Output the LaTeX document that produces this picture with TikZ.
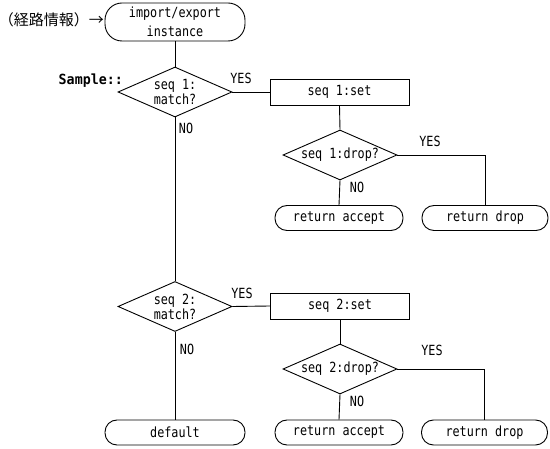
\documentclass[tikz,border=0pt]{standalone}
\usepackage{fontspec}
\usetikzlibrary{shapes.geometric}
\newfontfamily\monof[FakeStretch=0.84]{DejaVu Sans Mono}
\newfontfamily\monobf[FakeStretch=0.95]{DejaVu Sans Mono Bold}
\newfontfamily\cjkf{Noto Sans CJK JP}
\begin{document}
\begin{tikzpicture}[x=1pt,y=-1pt,
  every node/.style={font=\monof\fontsize{14}{15}\selectfont, inner sep=0pt},
  line/.style={draw=black, line width=0.9pt},
  term/.style={line, rounded corners=12pt, minimum height=25pt},
  boxn/.style={line, minimum width=139pt, minimum height=26pt},
  dia/.style={line, diamond, aspect=2.28, minimum width=114pt, minimum height=50pt, align=center},
  lbl/.style={}
]
\useasboundingbox (0,0) rectangle (550,449);
\fill[white] (0,0) rectangle (550,449);

\node[line, rounded corners=17pt, minimum width=140pt, minimum height=38pt, align=center,
  font=\monof\fontsize{14}{19}\selectfont] (start) at (175,22) {import/export\\instance};
\node[font=\cjkf\fontsize{15}{17}\selectfont, anchor=east] (info) at (104,20) {（経路情報）→};

\node[dia] (d1) at (175,92) {seq 1:\\match?};
\node[font=\monobf\fontsize{14}{15}\selectfont, anchor=east] (smp) at (123,81) {Sample::};
\node[boxn] (s1) at (339.5,92) {seq 1:set};
\node[dia] (d2) at (340,155) {seq 1:drop?};
\node[term, minimum width=128pt] (ra1) at (339,218) {return accept};
\node[term, minimum width=126pt] (rd1) at (485,218) {return drop};

\node[dia] (d3) at (175,306.5) {seq 2:\\match?};
\node[boxn] (s2) at (340,306) {seq 2:set};
\node[dia] (d4) at (340,369) {seq 2:drop?};
\node[term, minimum width=140pt] (def) at (175,432.5) {default};
\node[term, minimum width=128pt] (ra2) at (339,432.5) {return accept};
\node[term, minimum width=126pt] (rd2) at (484.5,432.5) {return drop};

\node[lbl] (y1) at (241,78) {YES};
\node[lbl] (n1) at (186,128) {NO};
\node[lbl] (y2) at (430,141) {YES};
\node[lbl] (n2) at (357,187) {NO};
\node[lbl] (y3) at (242,293) {YES};
\node[lbl] (n3) at (187,349) {NO};
\node[lbl] (y4) at (432,350) {YES};
\node[lbl] (n4) at (357,401) {NO};

\draw[line] (start.south) -- (d1.north);
\draw[line] (d1.east) -- (s1.west);
\draw[line] (d1.south) -- (d3.north);
\draw[line] (s1.south) -- (d2.north);
\draw[line] (d2.south) -- (ra1.north);
\draw[line] (d2.east) -| (rd1.north);
\draw[line] (d3.east) -- (s2.west);
\draw[line] (d3.south) -- (def.north);
\draw[line] (s2.south) -- (d4.north);
\draw[line] (d4.south) -- (ra2.north);
\draw[line] (d4.east) -| (rd2.north);
\end{tikzpicture}
\end{document}
